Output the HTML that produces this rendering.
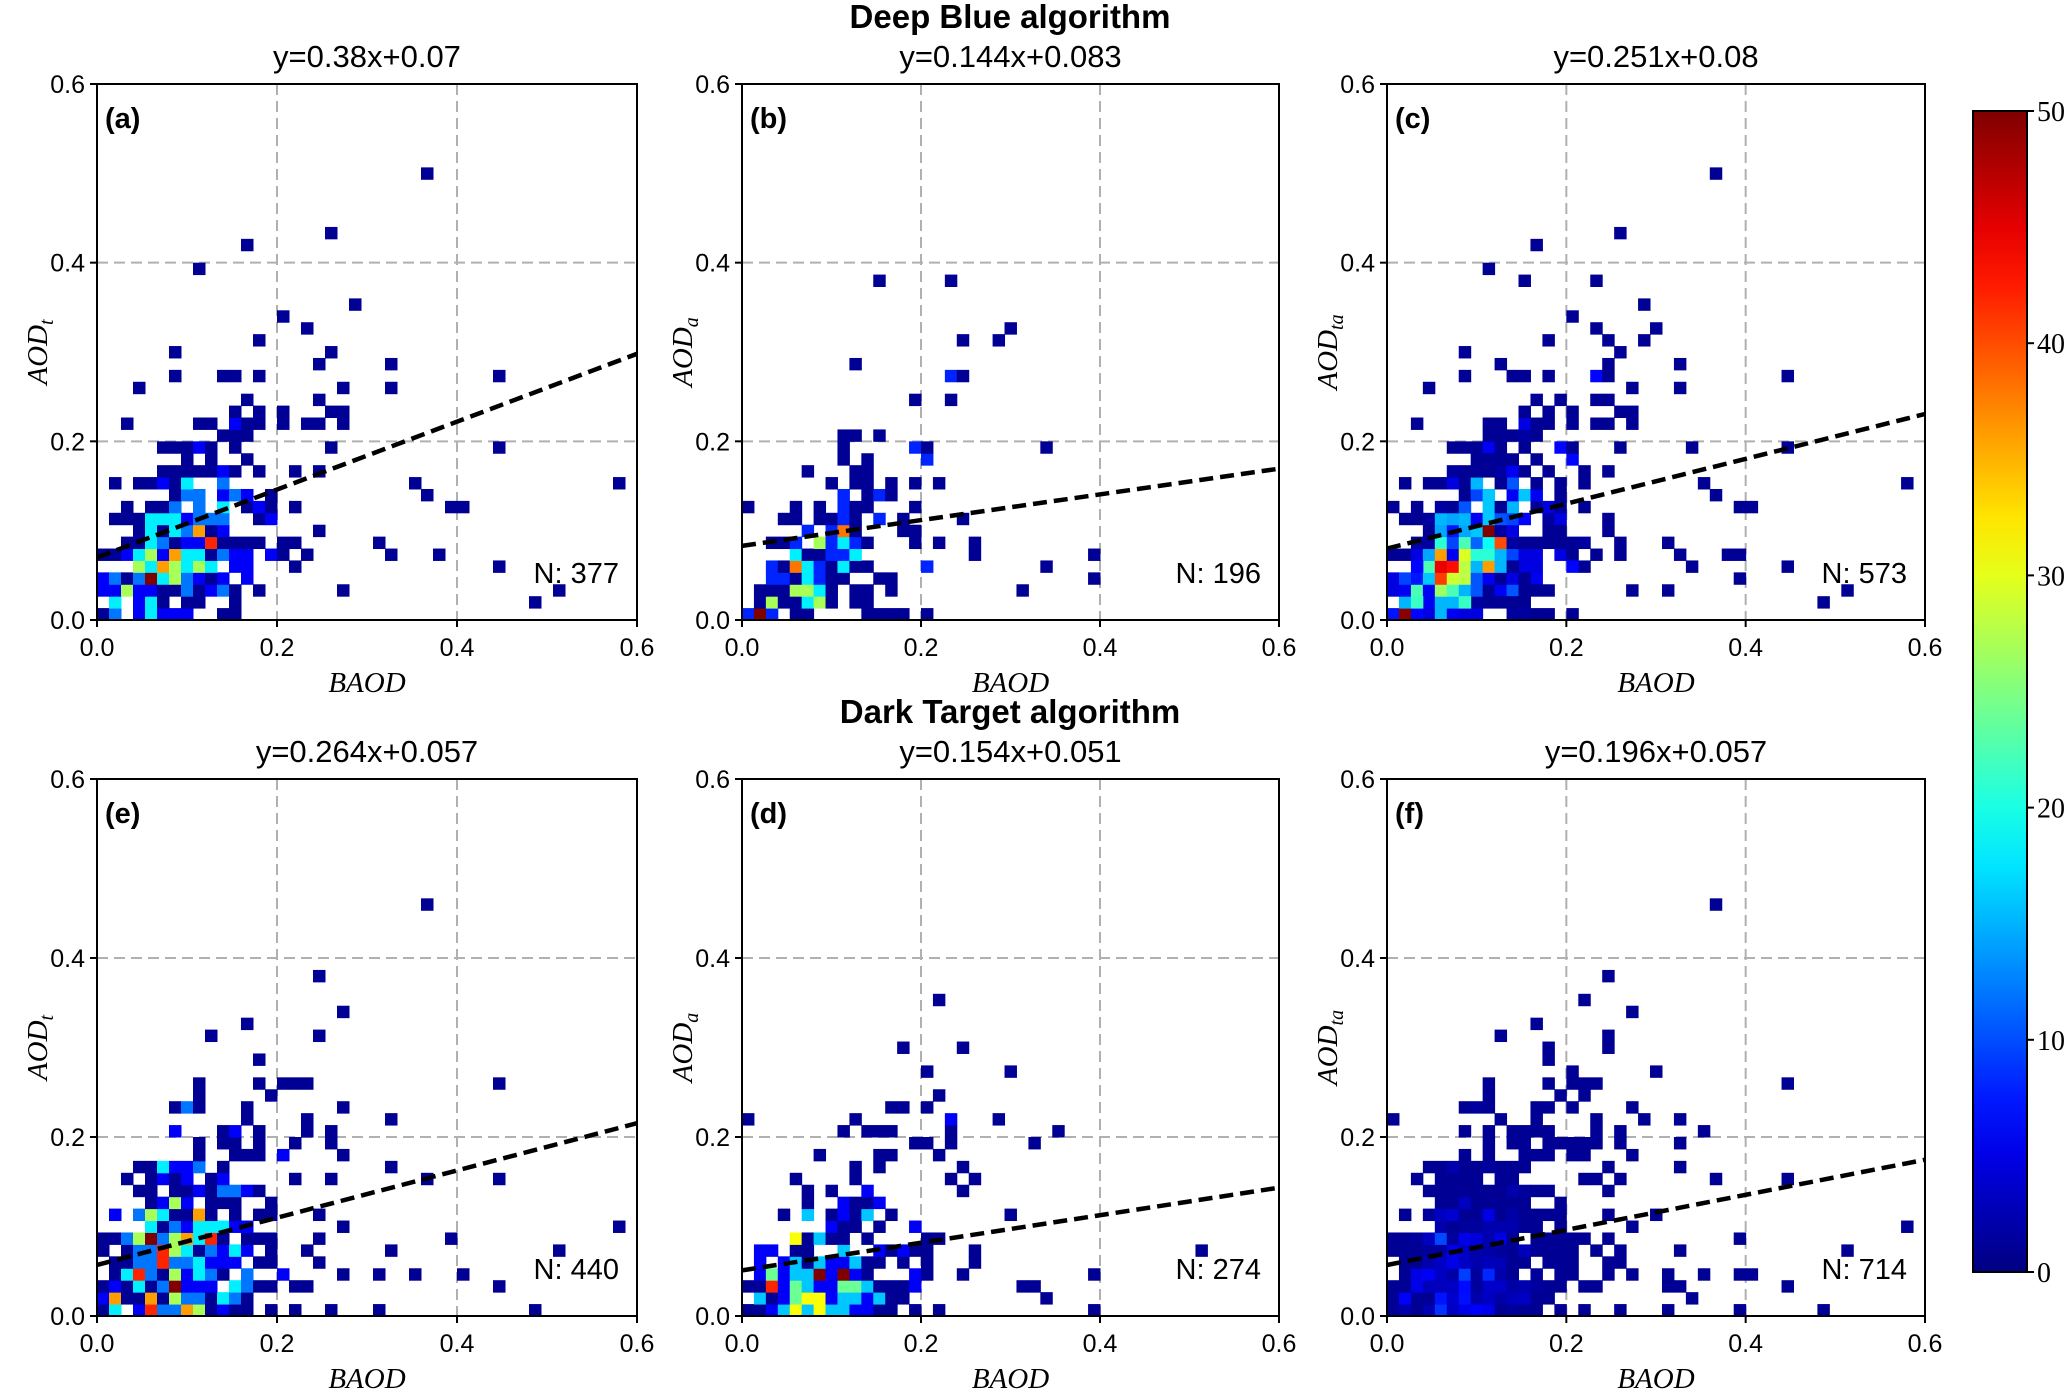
<!DOCTYPE html>
<html><head><meta charset="utf-8"><style>
body{margin:0;background:#fff;}
svg{display:block;}
.tk{font-family:"Liberation Sans",sans-serif;font-size:25px;fill:#000;}
.ttl{font-family:"Liberation Sans",sans-serif;font-size:31px;fill:#000;}
.hdr{font-family:"Liberation Sans",sans-serif;font-size:33px;font-weight:bold;fill:#000;}
.lab{font-family:"Liberation Serif",serif;font-style:italic;font-size:29px;fill:#000;}
.pl{font-family:"Liberation Sans",sans-serif;font-size:29px;font-weight:bold;fill:#000;}
.nn{font-family:"Liberation Sans",sans-serif;font-size:29px;fill:#000;}
.cb{font-family:"Liberation Serif",serif;font-size:28px;fill:#000;}
</style></head><body>
<svg id="fig" width="2067" height="1392" viewBox="0 0 2067 1392"></svg>
<script>
// ---- data: rows of "col:count" cells (bins of 0.6/45) ----
const nBins = 45;
const panelARows = [
"0:1 1:12 3:6 4:18 5:6 6:6 7:6 10:1 11:1",
"1:18 3:6 4:18 5:1 7:1 8:1 11:1 36:1",
"0:6 1:6 2:27 3:6 4:6 5:1 6:1 7:12 8:1 9:6 10:12 11:1 13:1 20:1 38:1",
"0:6 1:12 2:1 3:12 4:50 5:18 6:27 7:12 8:6 9:1 10:6 12:6",
"3:27 4:18 5:36 6:27 7:18 8:27 9:18 11:6 12:6 16:1 33:1",
"0:1 1:1 2:6 3:18 4:27 5:6 6:36 7:18 8:18 9:1 10:12 11:6 12:6 14:6 15:1 17:1 24:1 28:1",
"2:1 3:1 4:18 5:12 6:1 7:6 8:6 9:42 10:1 11:1 12:1 13:1 15:1 16:1 23:1",
"3:1 4:18 5:1 6:18 7:12 8:36 9:1 10:6 18:1",
"1:1 2:1 3:1 4:18 5:18 6:18 7:6 8:12 9:12 10:12 13:1 14:6",
"2:1 4:1 5:1 6:12 8:12 10:18 12:1 13:6 14:1 16:1 29:1 30:1",
"6:1 7:12 8:12 10:6 11:12 12:6 14:1 27:1",
"1:1 3:1 4:1 5:6 6:1 7:18 10:12 26:1 43:1",
"5:1 6:1 7:1 8:1 9:1 10:6 11:1 13:1 16:1 18:1",
"7:1 9:1 12:1",
"5:1 6:1 7:1 8:6 9:1 11:1 19:1 33:1",
"10:1 11:1 12:1",
"2:1 8:1 9:1 11:6 12:1 13:1 15:1 17:1 18:1 20:1",
"11:1 13:1 15:1 19:1 20:1",
"12:1 18:1",
"3:1 20:1 24:1",
"6:1 10:1 11:1 13:1 33:1",
"18:1 24:1",
"6:1 19:1",
"13:1","17:1","15:1","21:1","","","8:1","","12:1","19:1","","","","","27:1"];
const panelBRows = [
"0:8 1:50 2:8 4:1 5:1 10:1 11:1 12:1 13:1 15:1",
"1:1 2:27 3:1 4:1 5:18 6:27 7:1 9:1 10:1",
"1:1 2:1 3:1 4:27 5:27 6:18 7:1 9:1 10:1 12:1 23:1",
"2:8 3:8 4:1 5:18 6:8 7:1 8:1 11:1 12:1 29:1",
"2:8 3:1 4:38 5:18 6:8 7:1 8:18 9:1 10:1 15:8 25:1",
"4:18 5:1 6:1 7:8 8:8 9:18 19:1 29:1",
"2:1 3:1 4:8 6:27 7:8 8:18 9:8 10:1 14:1 16:1 19:1",
"5:8 7:8 8:38 9:1 13:1 14:1",
"3:1 4:1 6:1 7:1 8:8 9:1 11:8 13:1 18:1",
"0:1 4:1 6:1 8:8 9:1 10:1 14:1",
"8:8 10:1 11:8 12:1",
"7:1 9:1 10:1 12:1 14:1 16:1",
"5:1 9:1 10:1",
"8:1 10:1 15:8",
"8:1 14:8 15:1 25:1",
"8:1 9:1 11:1",
"","","14:1 17:1","","17:8 18:1","9:1","","18:1 21:1","22:1","","","","11:1 17:1"];
const panelERows = [
"0:1 1:18 3:6 4:42 5:12 6:12 7:36 8:27 9:1 10:6 11:1 12:1 14:1 16:1 19:1 23:1 36:1",
"0:6 1:36 2:1 3:1 4:36 5:1 6:27 7:12 8:12 9:1 10:18 11:12 12:1",
"0:1 1:6 2:1 3:18 4:1 5:12 6:50 7:6 8:6 9:6 11:18 12:12 13:1 14:1 16:1 17:1 33:1",
"1:1 2:18 3:42 4:12 5:1 6:27 7:6 8:18 9:12 10:1 12:12 15:6 20:1 23:1 26:1 30:1",
"1:1 2:1 3:12 4:12 5:42 6:12 7:12 8:18 9:6 10:6 11:6 13:1 14:1 18:1",
"0:1 2:1 3:12 4:12 5:42 6:27 7:18 8:1 9:12 10:6 11:18 12:6 14:1 17:1 24:1 38:1",
"0:1 1:1 2:12 3:27 4:50 5:12 6:27 7:36 8:18 9:42 10:1 12:1 13:1 14:1 18:1 29:1",
"4:18 5:1 6:12 7:6 8:18 9:18 10:18 11:6 12:6 20:1 43:1",
"1:6 3:12 4:27 5:18 6:1 7:1 8:36 9:1 11:1 13:1 14:1 18:1",
"4:1 5:6 6:27 7:6 9:1 10:1 11:1 14:1",
"3:1 4:1 6:1 7:1 8:6 9:1 10:12 11:12 12:6 13:1",
"2:1 4:1 5:6 6:1 7:6 9:1 10:6 16:1 19:1 27:1 33:1",
"3:1 4:1 5:18 6:6 7:6 8:12 10:1 24:1",
"8:1 11:1 12:1 13:1 15:6 20:1",
"8:1 10:1 11:1 13:1 16:1 19:1",
"6:6 10:1 11:6 13:1 17:1 19:1",
"12:1 17:1 24:1",
"6:1 7:12 8:1 12:1 20:1",
"8:1 14:1",
"8:1 13:1 15:1 16:1 17:1 33:1",
"","13:1","","9:1 18:1","12:1","20:1","","","18:1","","","","","","27:1"];
const panelDRows = [
"0:1 1:1 2:6 3:16 4:31 5:16 6:31 7:16 8:16 9:6 10:6 11:1 12:1 14:1 16:1 29:1",
"1:16 2:1 3:6 4:24 5:31 6:31 7:6 8:16 9:16 10:6 11:16 12:1 13:1 25:1",
"0:1 1:1 2:42 3:6 4:24 5:16 6:6 7:6 8:24 9:24 10:16 11:1 12:1 13:1 14:6 23:1 24:1",
"1:6 2:24 3:6 4:16 5:16 6:50 7:6 8:50 9:6 10:1 14:6 15:1 18:1 29:1",
"1:6 3:6 4:16 5:1 6:16 7:6 8:6 9:16 10:1 11:1 13:1 15:1 19:1",
"1:6 2:6 4:1 5:1 8:16 11:6 12:1 13:6 14:1 15:1 19:1 38:1",
"4:31 5:1 6:16 7:1 8:1 10:1 15:1 16:1",
"7:6 8:1 9:1 11:1 14:6",
"3:1 5:16 7:1 8:6 9:1 10:16 12:1 22:1",
"5:1 8:6 9:1 10:1 11:6",
"5:1 7:1 10:6 18:1",
"4:1 9:1 17:1 19:1",
"9:1 11:1 18:1",
"6:1 11:1 12:1 16:1",
"14:1 15:1 17:1 24:1",
"8:1 10:1 11:1 12:1 17:1 26:1",
"0:1 9:1 17:6 21:1",
"12:1 13:1 15:1",
"16:1","","15:1 22:1","","13:1 18:1","","","","16:1"];
// colour scale factor per panel (combined panels are rendered on a compressed scale in the source figure)
const colorScale = [1,1,0.8,1,1,0.12];
const titlesTop = ["y=0.38x+0.07","y=0.144x+0.083","y=0.251x+0.08"];
const titlesBot = ["y=0.264x+0.057","y=0.154x+0.051","y=0.196x+0.057"];
const slopes = [0.38,0.144,0.251,0.264,0.154,0.196];
const intercepts = [0.07,0.083,0.08,0.057,0.051,0.057];
const letters = ["(a)","(b)","(c)","(e)","(d)","(f)"];
const counts = ["N: 377","N: 196","N: 573","N: 440","N: 274","N: 714"];
const ylabs = ["t","a","ta","t","a","ta"];
const ticks = [0,0.2,0.4,0.6];
const cbTicks = [0,10,20,30,40,50];

// ---- helpers ----
const NS="http://www.w3.org/2000/svg";
const svg=document.getElementById('fig');
function mk(tag,attrs,parent){const e=document.createElementNS(NS,tag);for(const k in attrs)e.setAttribute(k,attrs[k]);(parent||svg).appendChild(e);return e;}
function parseRows(rows){const m={};rows.forEach((r,ri)=>{r.split(' ').filter(s=>s).forEach(t=>{const p=t.split(':');m[p[0]+','+ri]=(m[p[0]+','+ri]||0)+(+p[1]);});});return m;}
function mergeMaps(a,b){const m=Object.assign({},a);for(const k in b)m[k]=(m[k]||0)+b[k];return m;}
function jet(v){const t=Math.max(0,Math.min(1,v));
 const f=x=>Math.max(0,Math.min(1,x));
 const r=f(Math.min(4*t-1.5,-4*t+4.5)),g=f(Math.min(4*t-0.5,-4*t+3.5)),b=f(Math.min(4*t+0.5,-4*t+2.5));
 return `rgb(${Math.round(r*255)},${Math.round(g*255)},${Math.round(b*255)})`;}

const mA=parseRows(panelARows),mB=parseRows(panelBRows),mE=parseRows(panelERows),mD=parseRows(panelDRows);
const maps=[mA,mB,mergeMaps(mA,mB),mE,mD,mergeMaps(mE,mD)];
const colsX=[[97,637],[742,1279],[1387,1925]];
const rowsY=[[84,620],[779,1316]];

for(let p=0;p<6;p++){
 const [x0,x1]=colsX[p%3],[y0,y1]=rowsY[Math.floor(p/3)];
 const g=mk('g',{});
 
 
 const sx=v=>x0+(x1-x0)*v/0.6, sy=v=>y1-(y1-y0)*v/0.6;
 [0.2,0.4].forEach(v=>{
  const l1=mk('line',{x1:sx(v),x2:sx(v),y1:y0,y2:y1,stroke:'#b0b0b0','stroke-width':2,'stroke-dasharray':'11 6'},g);
  
  const l2=mk('line',{x1:x0,x2:x1,y1:sy(v),y2:sy(v),stroke:'#b0b0b0','stroke-width':2,'stroke-dasharray':'11 6'},g);
  
 });
 const bw=0.6/nBins;
 for(const k in maps[p]){const [c,r]=k.split(',').map(Number);const n=Math.max(1,maps[p][k]*colorScale[p]);
  const rc=mk('rect',{x:sx(c*bw),y:sy((r+1)*bw),width:sx(bw)-sx(0)+0.5,height:sy(0)-sy(bw)+0.5,fill:jet(n/50)},g);
  
  
 }
 const rl=mk('line',{x1:sx(0),y1:sy(intercepts[p]),x2:sx(0.6),y2:sy(intercepts[p]+slopes[p]*0.6),stroke:'#000','stroke-width':4.5,'stroke-dasharray':'14 7'},g);
 
 const fr=mk('rect',{x:x0,y:y0,width:x1-x0,height:y1-y0,fill:'none',stroke:'#000','stroke-width':2},g);
 
 ticks.forEach(v=>{
  mk('line',{x1:sx(v),x2:sx(v),y1:y1,y2:y1+7,stroke:'#000','stroke-width':2},g);
  mk('line',{x1:x0-7,x2:x0,y1:sy(v),y2:sy(v),stroke:'#000','stroke-width':2},g);
  const tx=mk('text',{x:sx(v),y:y1+36,'text-anchor':'middle',class:'tk'},g);tx.textContent=v.toFixed(1);
  
  const ty=mk('text',{x:x0-12,y:sy(v)+9,'text-anchor':'end',class:'tk'},g);ty.textContent=v.toFixed(1);
  
 });
 const title=mk('text',{x:(x0+x1)/2,y:y0-17,'text-anchor':'middle',class:'ttl'},g);
 title.textContent=(p<3?titlesTop:titlesBot)[p%3];
 
 const xl=mk('text',{x:(x0+x1)/2,y:y1+72,'text-anchor':'middle',class:'lab'},g);xl.textContent='BAOD';
 
 const yl=mk('text',{x:0,y:0,'text-anchor':'middle',class:'lab',transform:`translate(${x0-50},${(y0+y1)/2}) rotate(-90)`},g);
 yl.innerHTML='AOD<tspan font-size="20" dy="6">'+ylabs[p]+'</tspan>';
 
 const lt=mk('text',{x:x0+8,y:y0+44,class:'pl'},g);lt.textContent=letters[p];
 
 const nt=mk('text',{x:x1-18,y:sy(0.055)+12,'text-anchor':'end',class:'nn'},g);nt.textContent=counts[p];
 
}
const h1=mk('text',{x:1010,y:28,'text-anchor':'middle',class:'hdr'});h1.textContent='Deep Blue algorithm';

const h2=mk('text',{x:1010,y:723,'text-anchor':'middle',class:'hdr'});h2.textContent='Dark Target algorithm';

const cbX=1973,cbW=54,cbT=111,cbB=1272;
const defs=mk('defs',{});const lg=mk('linearGradient',{id:'jetg',x1:0,y1:1,x2:0,y2:0},defs);
for(let i=0;i<=20;i++){mk('stop',{offset:i/20,'stop-color':jet(i/20)},lg);}
const cbr=mk('rect',{x:cbX,y:cbT,width:cbW,height:cbB-cbT,fill:'url(#jetg)',stroke:'#000','stroke-width':2});

cbTicks.forEach(v=>{const y=cbB-(cbB-cbT)*v/50;
 mk('line',{x1:cbX+cbW,x2:cbX+cbW+7,y1:y,y2:y,stroke:'#000','stroke-width':2});
 const t=mk('text',{x:cbX+cbW+10,y:y+10,class:'cb'});t.textContent=v;
 
});
</script>
</body></html>
